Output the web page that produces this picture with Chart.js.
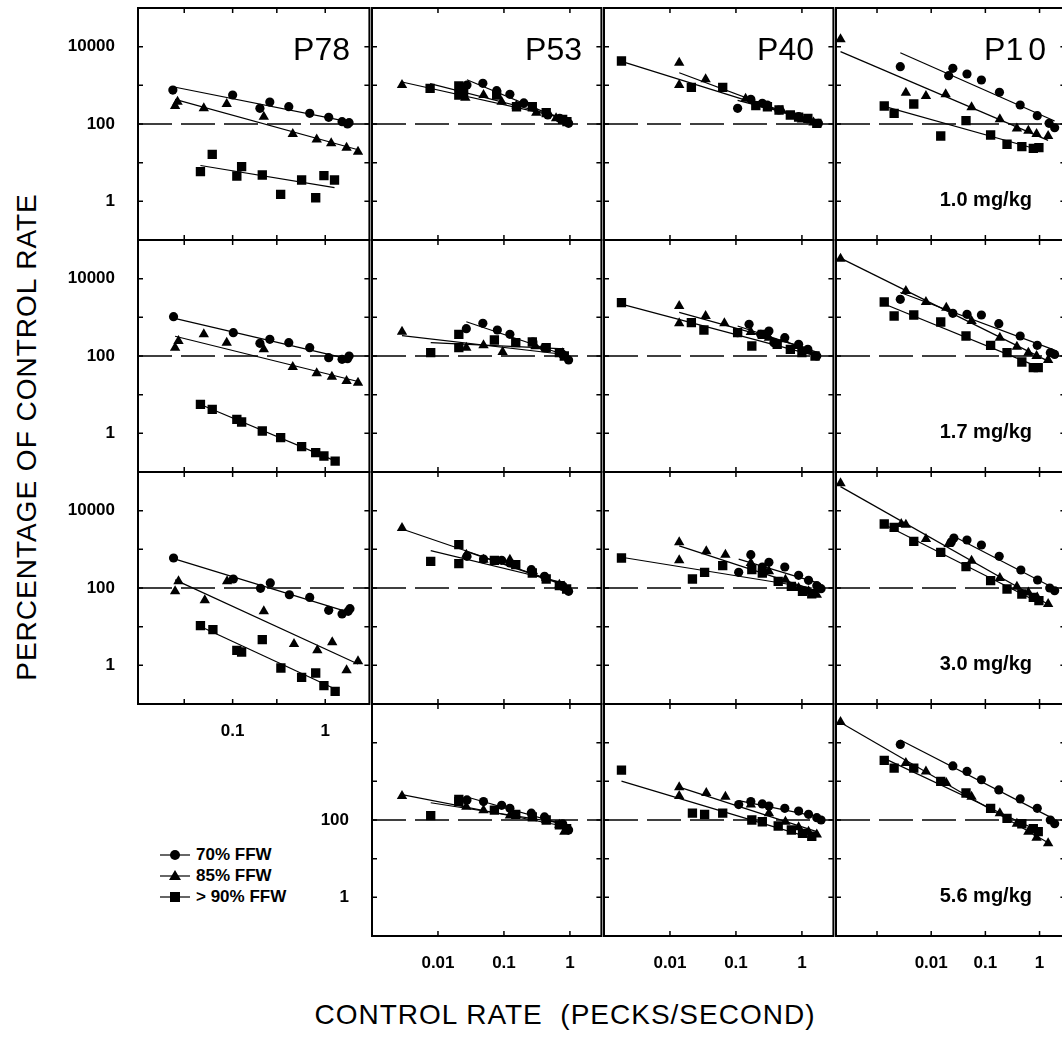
<!DOCTYPE html>
<html>
<head>
<meta charset="utf-8">
<script src="https://cdn.jsdelivr.net/npm/chart.js@4.4.0/dist/chart.umd.min.js"></script>
<style>
  body { margin: 0; width: 1062px; height: 1040px; overflow: hidden; background: #fff; position: relative;
         font-family: "Liberation Sans", Arial, sans-serif; color: #000; }
  .box { position: absolute; }
  .bird { position: absolute; font-size: 32px; line-height: 32px; }
  .dose { position: absolute; font-size: 20px; line-height: 20px; font-weight: bold; }
  .title { position: absolute; font-size: 28px; line-height: 28px; white-space: nowrap; letter-spacing: 1px; }
  .legend { position: absolute; font-size: 17px; font-weight: bold; line-height: 21px; }
  .legend div { display: flex; align-items: center; height: 21px; }
  .legend svg { margin-right: 6px; }
</style>
</head>
<body>
<script>
// ---- categories / tick labels ----
const birds = ["P78", "P53", "P40", "P10"];
const doses = ["1.0 mg/kg", "1.7 mg/kg", "3.0 mg/kg", "5.6 mg/kg"];
const groups = ["70% FFW", "85% FFW", "> 90% FFW"];
const yTicks = [1, 10, 100, 1000, 10000];
const yLabels = [1, 100, 10000];
const xTicksP78 = [0.03, 0.1, 0.3, 1];
const xLabelsP78 = [0.1, 1];
const xTicksMid = [0.01, 0.1, 1];
const xTicksP10 = [0.001, 0.01, 0.1, 1];
const xLabels = [0.01, 0.1, 1];

// ---- data: [control rate, % of control] ----
// P78
const p78_10_w70 = [[0.0226,756],[0.1,562],[0.197,254],[0.252,370],[0.404,280],[0.68,189],[1.09,149],[1.52,115],[1.74,100],[1.81,108]];
const p78_10_w85 = [[0.0239,292],[0.0254,378],[0.0488,254],[0.0863,329],[0.217,155],[0.446,55],[0.809,40],[1.16,31.6],[1.70,24.4],[2.26,19.2]];
const p78_10_w90 = [[0.0449,5.85],[0.0602,16.4],[0.111,4.52],[0.125,7.89],[0.209,4.8],[0.33,1.52],[0.556,3.56],[0.789,1.24],[0.968,4.61],[1.26,3.56]];
const p78_17_w70 = [[0.023,1040],[0.1017,401],[0.197,213],[0.252,270],[0.404,221],[0.68,164],[1.09,90.6],[1.52,82],[1.74,85],[1.81,100]];
const p78_17_w85 = [[0.0239,164],[0.026,244],[0.0488,363],[0.0863,221],[0.217,149],[0.446,52],[0.809,35.6],[1.18,29.2],[1.70,22.6],[2.26,20.4]];
const p78_17_w90 = [[0.0449,5.62],[0.0602,4.18],[0.111,2.3],[0.125,1.96],[0.209,1.15],[0.33,0.772],[0.556,0.452],[0.789,0.316],[0.968,0.259],[1.28,0.192]];
const p78_30_w70 = [[0.023,597],[0.1017,171],[0.2,98],[0.255,135],[0.41,67],[0.68,57],[1.09,26.4],[1.52,21.3],[1.77,24.9],[1.85,29.2]];
const p78_30_w85 = [[0.0239,82],[0.026,149],[0.05,48],[0.0871,149],[0.217,24.9],[0.46,3.56],[0.822,2.44],[1.19,3.93],[1.7,0.743],[2.26,1.27]];
const p78_30_w90 = [[0.0449,10.6],[0.0612,8.36],[0.111,2.44],[0.125,2.21],[0.209,4.61],[0.332,0.853],[0.556,0.49],[0.789,0.634],[0.968,0.298],[1.28,0.213]];
// P53
const p53_10_w70 = [[0.0275,1020],[0.0479,1127],[0.0776,728],[0.123,585],[0.2,350],[0.462,171],[0.7,140],[0.955,104]];
const p53_10_w85 = [[0.00285,1020],[0.026,480],[0.049,562],[0.0923,378],[0.155,300],[0.309,196],[0.617,140],[0.85,120]];
const p53_10_w90 = [[0.0076,836],[0.0207,961],[0.0207,562],[0.0245,700],[0.0776,562],[0.155,280],[0.269,280],[0.437,196],[0.776,132],[0.9,115]];
const p53_17_w70 = [[0.0269,509],[0.0479,700],[0.0794,470],[0.123,363],[0.275,230],[0.412,164],[0.776,110],[0.955,79]];
const p53_17_w85 = [[0.00285,426],[0.0269,164],[0.049,189],[0.0955,127],[0.3,180],[0.776,117]];
const p53_17_w90 = [[0.00776,122],[0.0207,363],[0.0207,164],[0.0716,259],[0.151,221],[0.269,230],[0.437,164],[0.692,122],[0.822,100]];
const p53_30_w70 = [[0.0275,659],[0.049,562],[0.0923,519],[0.123,443],[0.26,298],[0.412,200],[0.776,110],[0.955,82]];
const p53_30_w85 = [[0.00285,3565],[0.0269,728],[0.049,540],[0.123,540],[0.275,270],[0.437,181],[0.692,122],[0.822,110]];
const p53_30_w90 = [[0.00776,489],[0.0207,1321],[0.0207,426],[0.0716,519],[0.151,401],[0.269,244],[0.437,171],[0.692,115],[0.891,94]];
const p53_56_w70 = [[0.0275,330],[0.049,300],[0.0923,240],[0.123,200],[0.26,150],[0.412,120],[0.776,80],[0.955,55]];
const p53_56_w85 = [[0.00285,420],[0.0269,220],[0.049,180],[0.123,130],[0.275,115],[0.437,100],[0.692,75],[0.822,50]];
const p53_56_w90 = [[0.00776,130],[0.0207,340],[0.0207,300],[0.0716,180],[0.151,140],[0.269,120],[0.437,100],[0.692,75],[0.891,60]];
// P40
const p40_10_w70 = [[0.106,254],[0.168,434],[0.251,342],[0.299,310],[0.447,230],[0.891,155],[1.23,135],[1.78,104]];
const p40_10_w85 = [[0.0138,3854],[0.0138,1020],[0.0347,1429],[0.14,450],[0.5,220],[1.0,130],[1.5,110]];
const p40_10_w90 = [[0.00184,4256],[0.0211,887],[0.063,887],[0.2,300],[0.3,280],[0.45,230],[0.668,171],[0.891,150],[1.23,140],[1.68,104]];
const p40_17_w70 = [[0.106,401],[0.158,659],[0.237,363],[0.316,443],[0.376,221],[0.55,298],[0.891,200],[1.23,149],[1.68,100]];
const p40_17_w85 = [[0.0138,1963],[0.0138,700],[0.0347,1082],[0.0668,700],[0.168,418],[0.316,298],[0.531,270],[0.891,181],[1.26,135]];
const p40_17_w90 = [[0.00184,2393],[0.0211,728],[0.0327,470],[0.106,401],[0.174,181],[0.251,363],[0.422,200],[0.668,149],[1.0,122],[1.58,100]];
const p40_30_w70 = [[0.11,254],[0.168,728],[0.251,349],[0.316,461],[0.55,349],[0.891,213],[1.26,158],[1.68,115],[1.95,96]];
const p40_30_w85 = [[0.0138,1517],[0.0138,519],[0.0355,887],[0.0692,728],[0.168,443],[0.316,270],[0.562,164],[0.891,100],[1.26,82],[1.68,67]];
const p40_30_w90 = [[0.00184,597],[0.0219,171],[0.0335,254],[0.063,378],[0.174,298],[0.251,244],[0.437,149],[0.692,110],[1.02,82],[1.41,71]];
const p40_56_w70 = [[0.11,250],[0.168,300],[0.251,260],[0.316,230],[0.55,200],[0.891,170],[1.26,140],[1.68,115],[1.95,100]];
const p40_56_w85 = [[0.0138,700],[0.0138,420],[0.0355,500],[0.0692,400],[0.168,250],[0.316,150],[0.562,90],[0.891,65],[1.26,50],[1.68,42]];
const p40_56_w90 = [[0.00184,1950],[0.0219,150],[0.0335,140],[0.063,150],[0.174,100],[0.251,90],[0.437,70],[0.692,55],[1.02,45],[1.41,38]];
// P10
const p10_10_w70 = [[0.00269,3040],[0.021,1778],[0.0251,2754],[0.0458,1963],[0.0845,1374],[0.182,659],[0.439,310],[0.907,164],[1.5,104],[1.9,80]];
const p10_10_w85 = [[0.000212,15500],[0.00341,646],[0.008,530],[0.0185,585],[0.0556,270],[0.185,132],[0.382,77],[0.622,67],[0.881,55],[1.44,49]];
const p10_10_w90 = [[0.00136,292],[0.00207,189],[0.00477,329],[0.015,49],[0.0439,122],[0.125,52],[0.251,30],[0.471,26],[0.767,23.5],[0.973,24.4]];
const p10_17_w70 = [[0.00269,2924],[0.0251,1268],[0.0458,1196],[0.0845,1149],[0.177,686],[0.439,329],[0.907,189],[1.58,122],[1.9,110]];
const p10_17_w85 = [[0.000212,32900],[0.00341,4800],[0.008,2493],[0.019,1778],[0.0556,803],[0.185,298],[0.382,174],[0.622,122],[0.881,100],[1.44,79]];
const p10_17_w90 = [[0.00136,2493],[0.00207,1082],[0.00477,1149],[0.015,756],[0.0439,329],[0.125,189],[0.251,122],[0.471,70],[0.767,50],[0.946,50]];
const p10_30_w70 = [[0.0234,1517],[0.0262,1963],[0.0458,1742],[0.0845,1294],[0.18,659],[0.452,292],[0.92,161],[1.54,100],[1.9,85]];
const p10_30_w85 = [[0.000212,50900],[0.0028,4520],[0.00341,4345],[0.008,1849],[0.021,1374],[0.0556,509],[0.185,181],[0.382,108],[0.622,77],[0.907,57],[1.44,38.6]];
const p10_30_w90 = [[0.00136,4520],[0.00207,3707],[0.00477,1610],[0.015,836],[0.0439,356],[0.125,155],[0.251,94],[0.471,70],[0.767,57],[0.973,47]];
const p10_56_w70 = [[0.00269,9000],[0.0251,2500],[0.0458,1800],[0.0845,1100],[0.177,600],[0.439,350],[0.907,200],[1.58,100],[1.9,80]];
const p10_56_w85 = [[0.000212,34000],[0.00341,3000],[0.008,1800],[0.019,900],[0.0556,400],[0.185,150],[0.382,80],[0.622,50],[0.881,35],[1.44,25]];
const p10_56_w90 = [[0.00136,3500],[0.00207,2200],[0.00477,2200],[0.015,1000],[0.0439,500],[0.125,200],[0.251,110],[0.471,80],[0.767,60],[0.946,50]];

const panels = [
  [[p78_10_w70, p78_10_w85, p78_10_w90], [p53_10_w70, p53_10_w85, p53_10_w90], [p40_10_w70, p40_10_w85, p40_10_w90], [p10_10_w70, p10_10_w85, p10_10_w90]],
  [[p78_17_w70, p78_17_w85, p78_17_w90], [p53_17_w70, p53_17_w85, p53_17_w90], [p40_17_w70, p40_17_w85, p40_17_w90], [p10_17_w70, p10_17_w85, p10_17_w90]],
  [[p78_30_w70, p78_30_w85, p78_30_w90], [p53_30_w70, p53_30_w85, p53_30_w90], [p40_30_w70, p40_30_w85, p40_30_w90], [p10_30_w70, p10_30_w85, p10_30_w90]],
  [null, [p53_56_w70, p53_56_w85, p53_56_w90], [p40_56_w70, p40_56_w85, p40_56_w90], [p10_56_w70, p10_56_w85, p10_56_w90]]
];

// ---- layout ----
const cols = [
  { left: 138, width: 234, xmin: 0.0095, xmax: 3, ticks: xTicksP78, labels: xLabelsP78, labelRow: 2 },
  { left: 372, width: 232, xmin: 0.001, xmax: 3, ticks: xTicksMid, labels: xLabels, labelRow: 3 },
  { left: 604, width: 232, xmin: 0.001, xmax: 3, ticks: xTicksMid, labels: xLabels, labelRow: 3 },
  { left: 836, width: 232, xmin: 0.000175, xmax: 3, ticks: xTicksP10, labels: xLabels, labelRow: 3 }
];
const rowTops = [8, 240, 472, 704];
const panelH = 232;
// top padding must exceed the label room chart.js reserves for a vertical axis
const padL = 70, padR = 4, padT = 40, padB = 40;
const styles = ["circle", "triangle", "rect"];
const radii = [4.6, 6, 6.6];

function fitLine(pts) {
  let sx = 0, sy = 0, sxx = 0, sxy = 0;
  const n = pts.length;
  pts.forEach(([x, y]) => {
    const lx = Math.log10(x), ly = Math.log10(y);
    sx += lx; sy += ly; sxx += lx * lx; sxy += lx * ly;
  });
  const b = (n * sxy - sx * sy) / (n * sxx - sx * sx);
  const a = (sy - b * sx) / n;
  const xs = pts.map(p => p[0]);
  const x0 = Math.min(...xs), x1 = Math.max(...xs);
  return [x0, x1].map(x => ({ x, y: Math.pow(10, a + b * Math.log10(x)) }));
}

const fmt = v => String(v);
const has = (arr, v) => arr.some(a => Math.abs(a - v) / a < 1e-6);

const framePlugin = {
  id: "frame",
  afterDatasetsDraw(chart) {
    const { ctx, chartArea: a, scales: { x, y } } = chart;
    ctx.save();
    ctx.strokeStyle = "#000";
    ctx.lineWidth = 2;
    ctx.strokeRect(a.left, a.top, a.right - a.left, a.bottom - a.top);
    ctx.lineWidth = 1.5;
    ctx.beginPath();
    y.ticks.forEach(t => {
      const py = y.getPixelForValue(t.value);
      ctx.moveTo(a.left, py); ctx.lineTo(a.left + 5, py);
      ctx.moveTo(a.right, py); ctx.lineTo(a.right - 5, py);
    });
    x.ticks.forEach(t => {
      const px = x.getPixelForValue(t.value);
      ctx.moveTo(px, a.bottom); ctx.lineTo(px, a.bottom - 5);
      ctx.moveTo(px, a.top); ctx.lineTo(px, a.top + 5);
    });
    ctx.stroke();
    ctx.restore();
  }
};

panels.forEach((row, r) => {
  row.forEach((series, c) => {
    if (!series) return;
    const col = cols[c];
    const W = col.width + padL + padR, H = panelH + padT + padB;
    const div = document.createElement("div");
    div.className = "box";
    div.style.left = (col.left - padL) + "px";
    div.style.top = (rowTops[r] - padT) + "px";
    const cv = document.createElement("canvas");
    cv.width = W; cv.height = H;
    cv.style.width = W + "px"; cv.style.height = H + "px";
    div.appendChild(cv);
    document.body.appendChild(div);

    const showX = r === col.labelRow;
    const yLab = c === 0 ? yLabels : (c === 1 && r === 3 ? [1, 100] : []);

    const datasets = [{
      data: [{ x: col.xmin, y: 100 }, { x: col.xmax, y: 100 }],
      showLine: true, pointRadius: 0, borderColor: "#000", borderWidth: 1.5, borderDash: [34, 9]
    }];
    series.forEach((pts, i) => {
      datasets.push({
        data: fitLine(pts), showLine: true, pointRadius: 0, borderColor: "#000", borderWidth: 1.2
      });
      datasets.push({
        data: pts.map(([x, y]) => ({ x, y })), showLine: false,
        pointStyle: styles[i], pointRadius: radii[i], backgroundColor: "#000", borderColor: "#000", borderWidth: 0
      });
    });

    new Chart(cv, {
      type: "scatter",
      data: { datasets },
      options: {
        responsive: false, animation: false, devicePixelRatio: 1,
        layout: { padding: { top: padT, right: padR, left: 0, bottom: 0 } },
        plugins: { legend: { display: false }, tooltip: { enabled: false } },
        scales: {
          x: {
            type: "logarithmic", min: col.xmin, max: col.xmax,
            grid: { display: false }, border: { display: false },
            afterBuildTicks: s => { s.ticks = col.ticks.map(v => ({ value: v })); },
            afterFit: s => { s.height = padB; },
            ticks: {
              autoSkip: false, maxRotation: 0, padding: 9, color: "#000",
              font: { family: "Liberation Sans", size: 17, weight: "bold" },
              callback: v => (showX && has(col.labels, v)) ? fmt(v) : ""
            }
          },
          y: {
            type: "logarithmic", min: 0.1, max: 100000,
            grid: { display: false }, border: { display: false },
            afterBuildTicks: s => { s.ticks = yTicks.map(v => ({ value: v })); },
            afterFit: s => { s.width = padL; },
            ticks: {
              autoSkip: false, padding: 15, color: "#000",
              font: { family: "Liberation Sans", size: 17, weight: "bold" },
              callback: v => has(yLab, v) ? fmt(v) : ""
            }
          }
        }
      },
      plugins: [framePlugin]
    });
  });
});

// bird names and dose labels
birds.forEach((b, c) => {
  const d = document.createElement("div");
  d.className = "bird";
  d.style.left = (cols[c].left + cols[c].width - 22 - 62) + "px";
  d.style.width = "62px";
  d.style.textAlign = "right";
  d.style.top = "33px";
  d.innerHTML = b === "P10" ? 'P1<span style="margin-left:5px">0</span>' : b;
  document.body.appendChild(d);
});
doses.forEach((t, r) => {
  const d = document.createElement("div");
  d.className = "dose";
  d.style.right = "30px";
  d.style.top = (rowTops[r] + 181) + "px";
  d.textContent = t;
  document.body.appendChild(d);
});

// axis titles
const yt = document.createElement("div");
yt.className = "title";
yt.textContent = "PERCENTAGE OF CONTROL RATE";
yt.style.left = "27px"; yt.style.top = "437px";
yt.style.transform = "translate(-50%,-50%) rotate(-90deg)";
document.body.appendChild(yt);
const xt = document.createElement("div");
xt.className = "title";
xt.innerHTML = "CONTROL RATE&nbsp; (PECKS/SECOND)";
xt.style.left = "565px"; xt.style.top = "1015px";
xt.style.transform = "translate(-50%,-50%)";
document.body.appendChild(xt);

// legend
const marks = [
  '<circle cx="15" cy="7" r="5"/>',
  '<polygon points="15,1 21,11 9,11"/>',
  '<rect x="10" y="2" width="10" height="10"/>'
];
const lg = document.createElement("div");
lg.className = "legend";
lg.style.left = "160px"; lg.style.top = "844px";
lg.innerHTML = groups.map((g, i) =>
  '<div><svg width="30" height="14"><line x1="0" y1="7" x2="30" y2="7" stroke="#000" stroke-width="1.2"/>' +
  marks[i] + '</svg>' + g + '</div>').join("");
document.body.appendChild(lg);
</script>
</body>
</html>
